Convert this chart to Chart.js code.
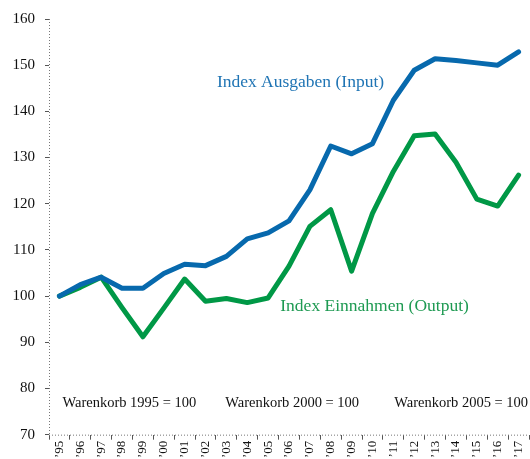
<!DOCTYPE html>
<html>
<head>
<meta charset="utf-8">
<script src="https://cdn.jsdelivr.net/npm/chart.js@4"></script>
<style>
  html, body { margin: 0; padding: 0; background: #fff; }
  #wrap { width: 530px; height: 459px; }
</style>
</head>
<body>
<div id="wrap"><canvas id="grafico"></canvas></div>
<script>
var jahre = ['’95','’96','’97','’98','’99','’00','’01','’02','’03','’04','’05','’06',
             '’07','’08','’09','’10','’11','’12','’13','’14','’15','’16','’17'];
var ausgaben = [100, 102.5, 104.1, 101.7, 101.7, 104.9, 106.9, 106.6, 108.6, 112.4, 113.7, 116.3,
                123, 132.5, 130.8, 133, 142.4, 148.9, 151.4, 151, 150.5, 150, 152.9];
var einnahmen = [100, 101.9, 104.1, 97.5, 91.2, 97.4, 103.7, 98.9, 99.5, 98.6, 99.6, 106.5,
                 115.1, 118.7, 105.4, 117.9, 127, 134.7, 135.1, 129, 121, 119.5, 126.2];
var yTicks = [70, 80, 90, 100, 110, 120, 130, 140, 150, 160];

// text labels placed in data units (category index, value)
var beschriftungen = [
    { text: 'Index Ausgaben (Input)', x: 11.55, y: 146.2, color: '#1f74b4', size: 17.5 },
    { text: 'Index Einnahmen (Output)', x: 15.1, y: 97.8, color: '#1e9a52', size: 17.5 },
    { text: 'Warenkorb 1995 = 100', x: 3.35, y: 76.9, color: '#111', size: 14.5 },
    { text: 'Warenkorb 2000 = 100', x: 11.15, y: 76.9, color: '#111', size: 14.5 },
    { text: 'Warenkorb 2005 = 100', x: 19.25, y: 76.9, color: '#111', size: 14.5 }
];

var serif = '"Liberation Serif", "DejaVu Serif", serif';

var achsenPlugin = {
    id: 'achsen',
    beforeDatasetsDraw: function (chart) {
        var ctx = chart.ctx;
        var a = chart.chartArea;
        ctx.save();
        ctx.strokeStyle = '#777';
        ctx.lineWidth = 1;
        ctx.setLineDash([1, 2]);
        ctx.beginPath();
        ctx.moveTo(a.left + 0.5, a.top);
        ctx.lineTo(a.left + 0.5, a.bottom);
        ctx.moveTo(a.left, a.bottom + 0.5);
        ctx.lineTo(a.right, a.bottom + 0.5);
        ctx.stroke();
        ctx.restore();
    },
    afterDatasetsDraw: function (chart) {
        var ctx = chart.ctx;
        var xs = chart.scales.x;
        var ys = chart.scales.y;
        ctx.save();
        ctx.textAlign = 'center';
        ctx.textBaseline = 'middle';
        beschriftungen.forEach(function (b) {
            ctx.font = b.size + 'px ' + serif;
            ctx.fillStyle = b.color;
            ctx.fillText(b.text, xs.getPixelForValue(b.x), ys.getPixelForValue(b.y));
        });
        ctx.restore();
    }
};

var grafico = new Chart(document.getElementById('grafico').getContext('2d'), {
    type: 'line',
    data: {
        labels: jahre,
        datasets: [{
            label: 'Index Ausgaben (Input)',
            data: ausgaben,
            borderColor: '#0769ad',
            borderWidth: 5,
            pointRadius: 0,
            borderCapStyle: 'round',
            borderJoinStyle: 'round',
            tension: 0
        }, {
            label: 'Index Einnahmen (Output)',
            data: einnahmen,
            borderColor: '#009846',
            borderWidth: 5,
            pointRadius: 0,
            borderCapStyle: 'round',
            borderJoinStyle: 'round',
            tension: 0
        }]
    },
    options: {
        responsive: true,
        maintainAspectRatio: false,
        animation: false,
        layout: {
            padding: { left: 2.5, top: 17, right: 1, bottom: 0 }
        },
        plugins: {
            legend: { display: false },
            tooltip: { enabled: false }
        },
        scales: {
            x: {
                offset: true,
                afterFit: function (scale) {
                    scale.paddingLeft = 0;
                    scale.paddingRight = 0;
                },
                grid: {
                    offset: true,
                    drawOnChartArea: false,
                    drawTicks: true,
                    tickLength: 5,
                    tickColor: '#555'
                },
                border: { display: false },
                ticks: {
                    autoSkip: false,
                    maxRotation: 90,
                    minRotation: 90,
                    padding: 1,
                    color: '#111',
                    font: { family: serif, size: 13 }
                }
            },
            y: {
                min: 70,
                max: 160,
                afterBuildTicks: function (axis) {
                    axis.ticks = yTicks.map(function (v) { return { value: v }; });
                },
                grid: {
                    drawOnChartArea: false,
                    drawTicks: true,
                    tickLength: 4,
                    tickColor: '#555'
                },
                border: { display: false },
                ticks: {
                    padding: 10,
                    color: '#111',
                    font: { family: serif, size: 15 }
                }
            }
        }
    },
    plugins: [achsenPlugin]
});
</script>
</body>
</html>
